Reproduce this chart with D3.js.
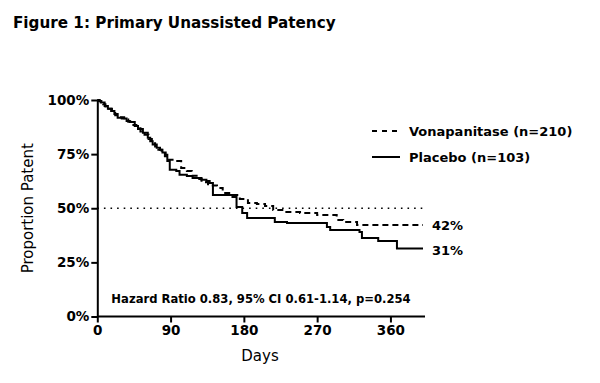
<!DOCTYPE html>
<html><head><meta charset="utf-8">
<script src="https://cdn.jsdelivr.net/npm/d3@7/dist/d3.min.js"></script>
<style>
html,body{margin:0;padding:0;background:#fff;}
svg{display:block;}
text{font-family:"DejaVu Sans",sans-serif;fill:#000;}
</style></head>
<body><svg id="c" width="600" height="383"></svg>
<script>
// ---- data ----
const xTicks = [0, 90, 180, 270, 360];
const yTicks = [0, 25, 50, 75, 100];
const seriesNames = ["Vonapanitase (n=210)", "Placebo (n=103)"];
const endLabels = ["42%", "31%"];
const vonaDays = [0,2,4,7,10,14,18,22,27,33,38,43,48,53,58,63,67,71,75,79,83,87,95,103,110,116,122,128,136,147,154,165,175,185,196,206,216,230,249,270,294,302,319,400];
const vonaPct  = [100,99.5,99,98,97,96,94.5,93,92,91,90,88.5,87,85.5,84,82,80,78.5,77,75.5,74,72.4,71.8,68.6,67.2,65,63.5,62,60.5,59.4,57,56.1,54.3,52.4,52,51,49.2,48.3,47.8,46.9,44.6,43.6,42.3,42.3];
const placDays = [0,3,5,9,13,17,21,25,30,36,40,46,50,56,62,65,68,73,77,80,84,86,89,97,101,110,117,128,134,138,142,166,171,178,184,218,233,282,286,322,325,345,368,400];
const placPct  = [100,99.5,98.8,97.2,96,94.9,93.5,91.8,91.4,90.3,89.8,88,86.6,84.9,82.6,81,79.4,78,77,75.8,74.7,71.8,67.8,67.2,65.5,64.9,64,63.2,62.6,61.7,56.1,55.2,50.6,47.8,45.5,43.6,43.2,41.3,39.9,39,36.3,34.9,31.4,31.4];
const refLevel = 50;
const title = "Figure 1: Primary Unassisted Patency";
const xTitle = "Days";
const yTitle = "Proportion Patent";
const note = "Hazard Ratio 0.83, 95% CI 0.61-1.14, p=0.254";

const svg = d3.select("#c");
const x = d3.scaleLinear().domain([0, 400]).range([97.3, 423]);
const y = d3.scaleLinear().domain([0, 100]).range([316.5, 100]);

svg.append("text").attr("x", 13).attr("y", 28).attr("font-weight", "bold").attr("font-size", 15.2).text(title);

// reference line
svg.append("line").attr("x1", x(0)).attr("x2", x(400)).attr("y1", y(refLevel)).attr("y2", y(refLevel))
  .attr("stroke", "#000").attr("stroke-width", 1.6).attr("stroke-dasharray", "1.6,5");

const line = d3.line().curve(d3.curveStepAfter).x(d => x(d[0])).y(d => y(d[1]));
const vona = vonaDays.map((d, i) => [d, vonaPct[i]]);
const plac = placDays.map((d, i) => [d, placPct[i]]);
svg.append("path").attr("d", line(plac)).attr("fill", "none").attr("stroke", "#000").attr("stroke-width", 2);
svg.append("path").attr("d", line(vona)).attr("fill", "none").attr("stroke", "#000").attr("stroke-width", 2).attr("stroke-dasharray", "6,4");

// axes
const yAxis = svg.append("g").attr("transform", `translate(${x(0)},0)`)
  .call(d3.axisLeft(y).tickValues(yTicks).tickFormat(d => d + "%").tickSize(6).tickSizeOuter(0));
const xAxis = svg.append("g").attr("transform", `translate(0,${y(0)})`)
  .call(d3.axisBottom(x).tickValues(xTicks).tickSize(6).tickSizeOuter(0));
[yAxis, xAxis].forEach(g => {
  g.selectAll("path,line").attr("stroke", "#000").attr("stroke-width", 2);
  g.selectAll("text").attr("font-family", "DejaVu Sans").attr("font-weight", "bold").attr("font-size", 13.5).attr("fill", "#000");
});
xAxis.select(".domain").attr("d", `M${x(0)},0H${x(400)+2}`);
yAxis.selectAll("text").attr("x", -8);
xAxis.selectAll("text").attr("y", 9);

svg.append("text").attr("x", 260).attr("y", 361).attr("text-anchor", "middle").attr("font-size", 15).text(xTitle);
svg.append("text").attr("transform", `translate(33,${y(50)}) rotate(-90)`).attr("text-anchor", "middle").attr("font-size", 15).text(yTitle);
svg.append("text").attr("x", 261).attr("y", 303).attr("text-anchor", "middle").attr("font-weight", "bold").attr("font-size", 11.6).text(note);

// end labels
svg.append("text").attr("x", 432).attr("y", y(vonaPct[vonaPct.length-1]) + 5).attr("font-weight", "bold").attr("font-size", 13).text(endLabels[0]);
svg.append("text").attr("x", 432).attr("y", y(placPct[placPct.length-1]) + 6).attr("font-weight", "bold").attr("font-size", 13).text(endLabels[1]);

// legend
const leg = svg.append("g");
[0, 1].forEach(i => {
  const ly = 131 + i * 26;
  leg.append("line").attr("x1", 372).attr("x2", 400).attr("y1", ly).attr("y2", ly).attr("stroke", "#000").attr("stroke-width", 2)
    .attr("stroke-dasharray", i === 0 ? "5,5" : null);
  leg.append("text").attr("x", 409).attr("y", ly + 5).attr("font-weight", "bold").attr("font-size", 13).text(seriesNames[i]);
});
</script></body></html>
